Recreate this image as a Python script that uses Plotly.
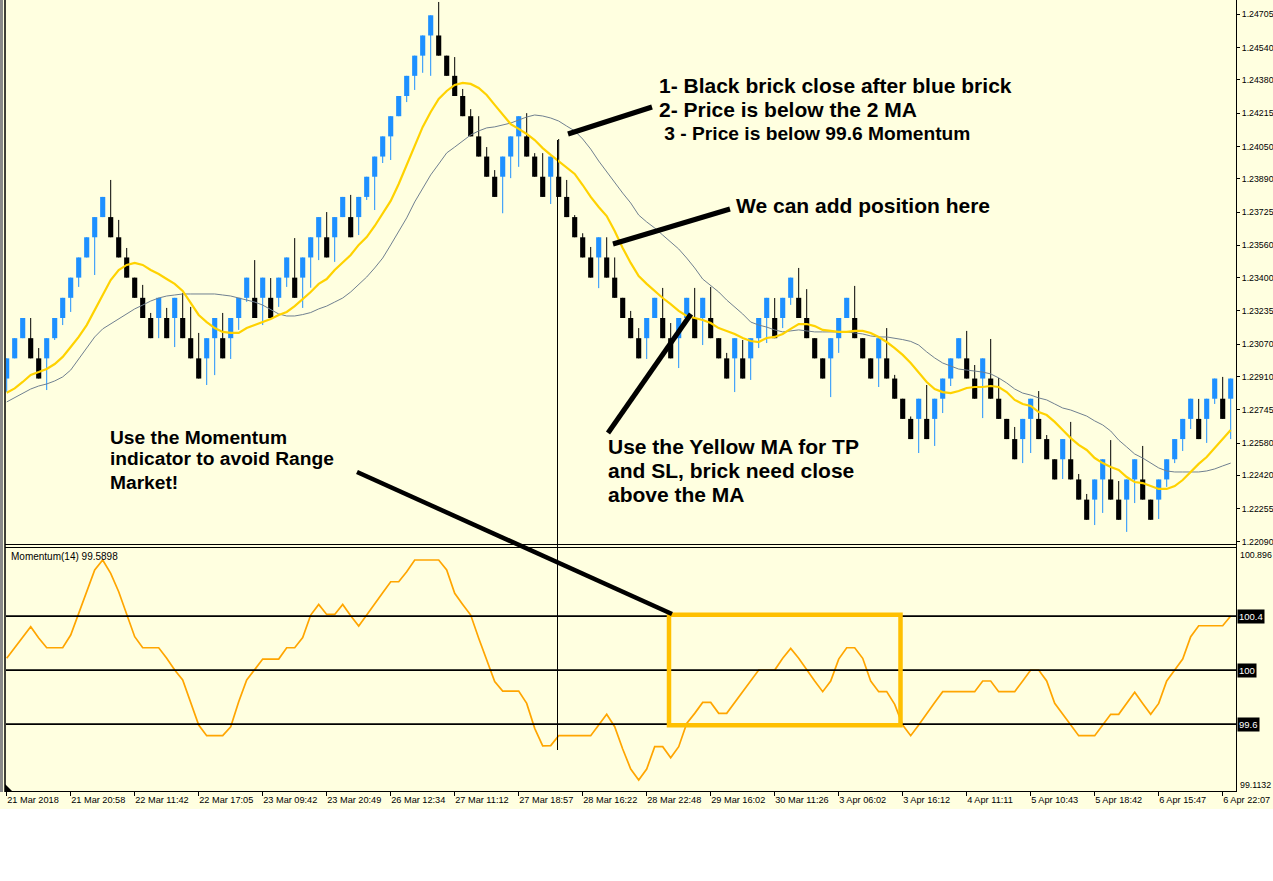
import plotly.graph_objects as go

W, H = 1273, 881
BG = "#FFFFE0"


def fx(p):
    return p / W


def fy(p):
    return 1 - p / H


# ---------------- data ----------------
date_labels = ["21 Mar 2018", "21 Mar 20:58", "22 Mar 11:42", "22 Mar 17:05", "23 Mar 09:42",
               "23 Mar 20:49", "26 Mar 12:34", "27 Mar 11:12", "27 Mar 18:57", "28 Mar 16:22",
               "28 Mar 22:48", "29 Mar 16:02", "30 Mar 11:26", "3 Apr 06:02", "3 Apr 16:12",
               "4 Apr 11:11", "5 Apr 10:43", "5 Apr 18:42", "6 Apr 15:47", "6 Apr 22:07"]
label_bars = [0, 8, 16, 24, 32, 40, 48, 56, 64, 72, 80, 88, 96, 104, 112, 120, 128, 136, 144, 152]

price_tick_labels = ["1.24705", "1.24540", "1.24380", "1.24215", "1.24050", "1.23890", "1.23725",
                     "1.23560", "1.23400", "1.23235", "1.23070", "1.22910", "1.22745", "1.22580",
                     "1.22420", "1.22255", "1.22090"]
momentum_levels = [100.4, 100.0, 99.6]
momentum_scale_labels = ["100.896", "99.1132"]

brick_open = [
    1.229, 1.230, 1.231, 1.231, 1.230, 1.230, 1.231, 1.232, 1.233, 1.234,
    1.235, 1.236, 1.237, 1.237, 1.236, 1.235, 1.234, 1.233, 1.232, 1.232,
    1.232, 1.232, 1.232, 1.231, 1.230, 1.230, 1.231, 1.231, 1.231, 1.232,
    1.233, 1.233, 1.233, 1.233, 1.233, 1.234, 1.234, 1.234, 1.235, 1.236,
    1.236, 1.236, 1.237, 1.237, 1.237, 1.238, 1.239, 1.240, 1.241, 1.242,
    1.243, 1.244, 1.245, 1.246, 1.246, 1.245, 1.244, 1.243, 1.242, 1.241,
    1.240, 1.239, 1.239, 1.240, 1.241, 1.241, 1.240, 1.239, 1.239, 1.239,
    1.238, 1.237, 1.236, 1.235, 1.235, 1.235, 1.234, 1.233, 1.232, 1.231,
    1.231, 1.232, 1.232, 1.231, 1.231, 1.232, 1.232, 1.232, 1.232, 1.231,
    1.230, 1.230, 1.230, 1.230, 1.231, 1.232, 1.232, 1.232, 1.233, 1.233,
    1.232, 1.231, 1.230, 1.230, 1.231, 1.232, 1.232, 1.231, 1.230, 1.230,
    1.230, 1.229, 1.228, 1.227, 1.227, 1.227, 1.227, 1.228, 1.229, 1.230,
    1.230, 1.229, 1.229, 1.229, 1.228, 1.227, 1.226, 1.226, 1.227, 1.227,
    1.226, 1.225, 1.225, 1.225, 1.224, 1.223, 1.223, 1.224, 1.224, 1.223,
    1.223, 1.224, 1.224, 1.223, 1.223, 1.224, 1.225, 1.226, 1.227, 1.227,
    1.227, 1.228, 1.228, 1.228]

brick_close = [
    1.230, 1.231, 1.232, 1.230, 1.229, 1.231, 1.232, 1.233, 1.234, 1.235,
    1.236, 1.237, 1.238, 1.236, 1.235, 1.234, 1.233, 1.232, 1.231, 1.233,
    1.231, 1.233, 1.231, 1.230, 1.229, 1.231, 1.232, 1.230, 1.232, 1.233,
    1.234, 1.232, 1.234, 1.232, 1.234, 1.235, 1.233, 1.235, 1.236, 1.237,
    1.235, 1.237, 1.238, 1.236, 1.238, 1.239, 1.240, 1.241, 1.242, 1.243,
    1.244, 1.245, 1.246, 1.247, 1.245, 1.244, 1.243, 1.242, 1.241, 1.240,
    1.239, 1.238, 1.240, 1.241, 1.242, 1.240, 1.239, 1.238, 1.240, 1.238,
    1.237, 1.236, 1.235, 1.234, 1.236, 1.234, 1.233, 1.232, 1.231, 1.230,
    1.232, 1.233, 1.231, 1.230, 1.232, 1.233, 1.231, 1.233, 1.231, 1.230,
    1.229, 1.231, 1.229, 1.231, 1.232, 1.233, 1.231, 1.233, 1.234, 1.232,
    1.231, 1.230, 1.229, 1.231, 1.232, 1.233, 1.231, 1.230, 1.229, 1.231,
    1.229, 1.228, 1.227, 1.226, 1.228, 1.226, 1.228, 1.229, 1.230, 1.231,
    1.229, 1.228, 1.230, 1.228, 1.227, 1.226, 1.225, 1.227, 1.228, 1.226,
    1.225, 1.224, 1.226, 1.224, 1.223, 1.222, 1.224, 1.225, 1.223, 1.222,
    1.224, 1.225, 1.223, 1.222, 1.224, 1.225, 1.226, 1.227, 1.228, 1.226,
    1.228, 1.229, 1.227, 1.229]

brick_high = [
    1.230, 1.231, 1.232, 1.23200, 1.23051, 1.231, 1.232, 1.233, 1.234, 1.235,
    1.236, 1.237, 1.238, 1.23884, 1.23686, 1.23547, 1.234, 1.23364, 1.23225, 1.233,
    1.23250, 1.233, 1.23324, 1.23255, 1.23126, 1.231, 1.232, 1.23225, 1.232, 1.233,
    1.234, 1.23487, 1.234, 1.23398, 1.234, 1.235, 1.23596, 1.235, 1.236, 1.237,
    1.23725, 1.237, 1.238, 1.23810, 1.238, 1.239, 1.240, 1.241, 1.242, 1.243,
    1.244, 1.245, 1.246, 1.247, 1.24766, 1.245, 1.24493, 1.24335, 1.24235, 1.24200,
    1.24047, 1.23933, 1.240, 1.241, 1.242, 1.24215, 1.24017, 1.24017, 1.240, 1.24087,
    1.23884, 1.23710, 1.23620, 1.23552, 1.236, 1.23600, 1.23500, 1.233, 1.23235, 1.23150,
    1.232, 1.233, 1.23349, 1.23175, 1.232, 1.233, 1.23349, 1.233, 1.23354, 1.231,
    1.23027, 1.231, 1.23091, 1.231, 1.232, 1.233, 1.23299, 1.233, 1.234, 1.23448,
    1.23343, 1.231, 1.230, 1.231, 1.232, 1.233, 1.23359, 1.231, 1.230, 1.231,
    1.23150, 1.22918, 1.228, 1.22712, 1.228, 1.22868, 1.228, 1.229, 1.230, 1.231,
    1.23136, 1.22967, 1.230, 1.23096, 1.22903, 1.227, 1.22660, 1.227, 1.228, 1.22838,
    1.22620, 1.225, 1.226, 1.22685, 1.22427, 1.22328, 1.224, 1.225, 1.22595, 1.22392,
    1.224, 1.225, 1.22566, 1.223, 1.224, 1.225, 1.226, 1.227, 1.228, 1.22799,
    1.228, 1.229, 1.22908, 1.229]

brick_low = [
    1.22833, 1.230, 1.231, 1.230, 1.229, 1.22843, 1.23091, 1.23165, 1.23230, 1.23354,
    1.235, 1.23413, 1.237, 1.236, 1.235, 1.234, 1.233, 1.232, 1.231, 1.231,
    1.231, 1.23056, 1.231, 1.230, 1.229, 1.22868, 1.22917, 1.230, 1.22997, 1.23141,
    1.23280, 1.232, 1.23165, 1.232, 1.23255, 1.23354, 1.233, 1.23250, 1.23350, 1.23487,
    1.235, 1.23478, 1.237, 1.236, 1.23611, 1.23785, 1.23735, 1.23968, 1.23983, 1.242,
    1.24270, 1.24330, 1.24415, 1.24400, 1.245, 1.244, 1.243, 1.242, 1.241, 1.240,
    1.239, 1.238, 1.23719, 1.23893, 1.23949, 1.240, 1.239, 1.238, 1.23765, 1.238,
    1.237, 1.236, 1.235, 1.234, 1.23348, 1.234, 1.233, 1.232, 1.231, 1.230,
    1.22997, 1.232, 1.231, 1.230, 1.22952, 1.232, 1.231, 1.23066, 1.231, 1.230,
    1.229, 1.22833, 1.229, 1.22893, 1.23051, 1.23076, 1.231, 1.23150, 1.23265, 1.232,
    1.231, 1.230, 1.229, 1.22808, 1.23027, 1.232, 1.231, 1.230, 1.229, 1.22858,
    1.229, 1.228, 1.227, 1.226, 1.22531, 1.226, 1.22566, 1.22729, 1.22863, 1.230,
    1.229, 1.228, 1.22704, 1.228, 1.227, 1.226, 1.225, 1.22481, 1.22531, 1.226,
    1.225, 1.224, 1.22402, 1.224, 1.223, 1.222, 1.22174, 1.22234, 1.223, 1.222,
    1.22140, 1.22283, 1.223, 1.222, 1.22204, 1.22363, 1.22481, 1.22541, 1.22650, 1.226,
    1.22581, 1.22774, 1.227, 1.22600]

ma_yellow = [
    1.22830, 1.22851, 1.22883, 1.22918, 1.22932, 1.22947, 1.22972, 1.23007, 1.23056, 1.23106,
    1.23165, 1.23240, 1.23309, 1.23388, 1.23438, 1.23463, 1.23473, 1.23463, 1.23438, 1.23418,
    1.23393, 1.23369, 1.23334, 1.23274, 1.23215, 1.23180, 1.23150, 1.23131, 1.23126, 1.23126,
    1.23150, 1.23165, 1.23180, 1.23195, 1.23215, 1.23230, 1.23259, 1.23294, 1.23329, 1.23369,
    1.23393, 1.23438, 1.23473, 1.23512, 1.23562, 1.23601, 1.23656, 1.23715, 1.23780, 1.23864,
    1.23958, 1.24047, 1.24147, 1.24221, 1.24285, 1.24325, 1.24355, 1.24365, 1.24360, 1.24340,
    1.24305, 1.24256, 1.24206, 1.24161, 1.24137, 1.24112, 1.24082, 1.24042, 1.24008, 1.23978,
    1.23948, 1.23914, 1.23859, 1.23800, 1.23750, 1.23705, 1.23631, 1.23547, 1.23473, 1.23408,
    1.23369, 1.23334, 1.23299, 1.23269, 1.23235, 1.23210, 1.23200, 1.23190, 1.23175, 1.23150,
    1.23136, 1.23121, 1.23101, 1.23086, 1.23081, 1.23101, 1.23106, 1.23121, 1.23146, 1.23170,
    1.23170, 1.23160, 1.23141, 1.23136, 1.23131, 1.23131, 1.23136, 1.23136, 1.23126, 1.23106,
    1.23081, 1.23051, 1.23017, 1.22977, 1.22932, 1.22883, 1.22848, 1.22833, 1.22828, 1.22838,
    1.22853, 1.22858, 1.22858, 1.22863, 1.22858, 1.22833, 1.22794, 1.22774, 1.22764, 1.22734,
    1.22719, 1.22685, 1.22645, 1.22605, 1.22571, 1.22546, 1.22506, 1.22481, 1.22462, 1.22447,
    1.22412, 1.22387, 1.22382, 1.22367, 1.22353, 1.22353, 1.22367, 1.22397, 1.22437, 1.22477,
    1.22511, 1.22556, 1.22605, 1.22645]

ma_gray = [
    1.22784, 1.22804, 1.22828, 1.22848, 1.22863, 1.22873, 1.22888, 1.22908, 1.22942, 1.22997,
    1.23046, 1.23106, 1.23146, 1.23170, 1.23195, 1.23220, 1.23245, 1.23264, 1.23284, 1.23299,
    1.23309, 1.23314, 1.23319, 1.23319, 1.23319, 1.23319, 1.23319, 1.23314, 1.23309, 1.23299,
    1.23289, 1.23279, 1.23264, 1.23240, 1.23220, 1.23210, 1.23210, 1.23217, 1.23227, 1.23245,
    1.23259, 1.23279, 1.23299, 1.23329, 1.23364, 1.23403, 1.23448, 1.23497, 1.23562, 1.23626,
    1.23696, 1.23775, 1.23839, 1.23909, 1.23963, 1.24018, 1.24047, 1.24077, 1.24107, 1.24127,
    1.24142, 1.24147, 1.24156, 1.24166, 1.24181, 1.24196, 1.24206, 1.24201, 1.24191, 1.24176,
    1.24151, 1.24127, 1.24087, 1.24037, 1.23978, 1.23923, 1.23869, 1.23819, 1.23770, 1.23710,
    1.23676, 1.23646, 1.23611, 1.23577, 1.23542, 1.23497, 1.23448, 1.23393, 1.23359, 1.23329,
    1.23289, 1.23255, 1.23220, 1.23180, 1.23165, 1.23155, 1.23141, 1.23131, 1.23136, 1.23141,
    1.23136, 1.23131, 1.23131, 1.23131, 1.23131, 1.23131, 1.23126, 1.23121, 1.23111, 1.23106,
    1.23106, 1.23101, 1.23093, 1.23084, 1.23066, 1.23032, 1.23002, 1.22977, 1.22962, 1.22947,
    1.22942, 1.22937, 1.22932, 1.22923, 1.22903, 1.22878, 1.22848, 1.22828, 1.22818, 1.22804,
    1.22794, 1.22774, 1.22754, 1.22744, 1.22729, 1.22714, 1.22690, 1.22670, 1.22640, 1.22595,
    1.22561, 1.22526, 1.22506, 1.22481, 1.22457, 1.22442, 1.22437, 1.22437, 1.22437, 1.22437,
    1.22442, 1.22452, 1.22467, 1.22481]

momentum = [
    100.087, 100.165, 100.242, 100.321, 100.237, 100.165, 100.165, 100.165, 100.259, 100.420,
    100.580, 100.741, 100.815, 100.716, 100.580, 100.407, 100.247, 100.165, 100.165, 100.165,
    100.087, 100.000, 99.926, 99.765, 99.593, 99.514, 99.514, 99.514, 99.580, 99.765,
    99.926, 100.000, 100.081, 100.081, 100.081, 100.165, 100.165, 100.240, 100.407, 100.486,
    100.412, 100.412, 100.486, 100.402, 100.326, 100.407, 100.494, 100.573, 100.654, 100.654,
    100.728, 100.815, 100.815, 100.815, 100.815, 100.741, 100.568, 100.486, 100.407, 100.235,
    100.074, 99.914, 99.844, 99.844, 99.844, 99.753, 99.568, 99.439, 99.440, 99.514,
    99.514, 99.514, 99.514, 99.514, 99.593, 99.672, 99.580, 99.415, 99.267, 99.185,
    99.267, 99.432, 99.432, 99.350, 99.432, 99.605, 99.679, 99.760, 99.760, 99.679,
    99.679, 99.760, 99.840, 99.919, 100.000, 100.000, 100.000, 100.087, 100.160, 100.087,
    100.000, 99.919, 99.840, 99.919, 100.081, 100.165, 100.165, 100.087, 99.919, 99.840,
    99.840, 99.746, 99.593, 99.514, 99.593, 99.679, 99.760, 99.840, 99.840, 99.840,
    99.840, 99.840, 99.919, 99.919, 99.840, 99.840, 99.840, 99.919, 100.000, 100.000,
    99.919, 99.753, 99.672, 99.593, 99.514, 99.514, 99.514, 99.593, 99.672, 99.672,
    99.753, 99.835, 99.753, 99.672, 99.753, 99.919, 100.000, 100.081, 100.247, 100.328,
    100.328, 100.328, 100.328, 100.400]

# ---------------- derived ----------------
n = len(brick_open)
bars = list(range(n))
body_base = [min(o, c) for o, c in zip(brick_open, brick_close)]
body_size = [abs(c - o) for o, c in zip(brick_open, brick_close)]
UP, DOWN = "#1E90FF", "#000000"
body_color = [UP if c > o else DOWN for o, c in zip(brick_open, brick_close)]


def wicks(up):
    xs, ys = [], []
    for i in bars:
        if (brick_close[i] > brick_open[i]) == up:
            xs += [i, i, None]
            ys += [brick_low[i], brick_high[i], None]
    return xs, ys


XR = [-0.0875, 153.6625]
FAM = "Liberation Sans, Arial, sans-serif"

fig = go.Figure()
wx, wy = wicks(True)
fig.add_trace(go.Scatter(x=wx, y=wy, mode="lines", line=dict(color=UP, width=1),
                         hoverinfo="skip", xaxis="x", yaxis="y"))
wx, wy = wicks(False)
fig.add_trace(go.Scatter(x=wx, y=wy, mode="lines", line=dict(color=DOWN, width=1),
                         hoverinfo="skip", xaxis="x", yaxis="y"))
fig.add_trace(go.Bar(x=bars, y=body_size, base=body_base, width=0.64,
                     marker=dict(color=body_color, line=dict(width=0)),
                     xaxis="x", yaxis="y", hoverinfo="skip"))
fig.add_trace(go.Scatter(x=bars, y=ma_gray, mode="lines", line=dict(color="#708090", width=1),
                         xaxis="x", yaxis="y", hoverinfo="skip"))
fig.add_trace(go.Scatter(x=bars, y=ma_yellow, mode="lines", line=dict(color="#FFD200", width=2.2),
                         xaxis="x", yaxis="y", hoverinfo="skip"))
fig.add_trace(go.Scatter(x=bars, y=momentum, mode="lines", line=dict(color="#FFA500", width=1.7),
                         xaxis="x2", yaxis="y2", hoverinfo="skip"))

shapes = []
# chart canvas background
shapes.append(dict(type="rect", xref="paper", yref="paper", x0=0, x1=1, y0=fy(809), y1=1,
                   fillcolor=BG, line=dict(width=0), layer="below"))
# left gray stripe and border
shapes.append(dict(type="rect", xref="paper", yref="paper", x0=0, x1=fx(3), y0=fy(792), y1=1,
                   fillcolor="#8A8A8A", line=dict(width=0)))
shapes.append(dict(type="line", xref="paper", yref="paper", x0=fx(5), x1=fx(5), y0=fy(792), y1=1,
                   line=dict(color="black", width=1.5)))
# panel borders
for yy in (544.5, 547.5, 791.5):
    shapes.append(dict(type="line", xref="paper", yref="paper", x0=fx(5), x1=fx(1236.5),
                       y0=fy(yy), y1=fy(yy), line=dict(color="black", width=1)))
shapes.append(dict(type="line", xref="paper", yref="paper", x0=fx(1236.5), x1=fx(1236.5),
                   y0=fy(792), y1=1, line=dict(color="black", width=1)))
# momentum level lines
for lv in momentum_levels:
    shapes.append(dict(type="line", xref="paper", yref="y2", x0=fx(6), x1=fx(1236),
                       y0=lv, y1=lv, line=dict(color="black", width=1.8)))
# vertical crosshair line
shapes.append(dict(type="line", xref="x", yref="paper", x0=68.85, x1=68.85,
                   y0=fy(750), y1=fy(140), line=dict(color="black", width=1)))
# yellow range box
shapes.append(dict(type="rect", xref="paper", yref="paper", x0=fx(669), x1=fx(900.5),
                   y0=fy(725.3), y1=fy(614.7), line=dict(color="#FFC000", width=4.5)))
# pointer lines
for (x0, y0, x1, y1, w) in [(568, 134, 652, 107, 5), (613, 244, 730, 209, 5),
                            (608, 433, 691, 314, 5), (357, 472, 672, 614, 4.5)]:
    shapes.append(dict(type="line", xref="paper", yref="paper", x0=fx(x0), y0=fy(y0),
                       x1=fx(x1), y1=fy(y1), line=dict(color="black", width=w)))
# small shift marker
shapes.append(dict(type="path", xref="paper", yref="paper",
                   path=f"M {fx(5)},{fy(791)} L {fx(5)},{fy(784)} L {fx(12)},{fy(791)} Z",
                   fillcolor="black", line=dict(width=0)))

BIG = dict(family=FAM, size=21, color="black")
MID = dict(family=FAM, size=19.2, color="black")
SMALL = dict(family=FAM, size=10, color="black")
AXF = dict(family=FAM, size=8.8, color="black")

notes = [
    ("1- Black brick close after blue brick", 657, 86, BIG),
    ("2- Price is below the 2 MA", 657, 110, BIG),
    (" 3 - Price is below 99.6 Momentum", 657, 133, MID),
    ("We can add position here", 734, 206, BIG),
    ("Use the Yellow MA for TP", 606, 447, BIG),
    ("and SL, brick need close", 606, 471, BIG),
    ("above the MA", 606, 495, BIG),
    ("Use the Momentum", 108, 437, MID),
    ("indicator to avoid Range", 108, 459, MID),
    ("Market!", 108, 482, MID),
]
annotations = []
for txt, x, y, f in notes:
    annotations.append(dict(text=f"<b>{txt}</b>", xref="paper", yref="paper", x=fx(x), y=fy(y),
                            xanchor="left", yanchor="middle", showarrow=False, font=f))
annotations.append(dict(text="Momentum(14) 99.5898", xref="paper", yref="paper", x=fx(9), y=fy(556),
                        xanchor="left", yanchor="middle", showarrow=False, font=SMALL))
for txt, y in zip(momentum_scale_labels, (555, 785)):
    annotations.append(dict(text=txt, xref="paper", yref="paper", x=fx(1238), y=fy(y),
                            xanchor="left", yanchor="middle", showarrow=False, font=AXF))
for lv in momentum_levels:
    annotations.append(dict(text=f"{lv:g}", xref="paper", yref="y2", x=fx(1237), y=lv,
                            xanchor="left", yanchor="middle", showarrow=False,
                            font=dict(family=FAM, size=9.5, color="white"),
                            bgcolor="black", borderpad=1))

fig.update_layout(
    width=W, height=H, margin=dict(l=0, r=0, t=0, b=0, pad=0),
    template="none", paper_bgcolor="white", plot_bgcolor=BG, showlegend=False,
    font=dict(family=FAM, size=10, color="black"),
    xaxis=dict(domain=[fx(6), fx(1236)], range=XR, anchor="y", showticklabels=False,
               showgrid=False, zeroline=False, showline=False, ticks="", automargin=False),
    yaxis=dict(domain=[fy(545), 1], range=[1.220751, 1.247758], anchor="x", side="right",
               tickvals=[float(s) for s in price_tick_labels], ticktext=price_tick_labels,
               ticks="outside", ticklen=3, tickwidth=1, tickcolor="black",
               tickfont=AXF, showgrid=False, zeroline=False,
               showline=False, automargin=False),
    xaxis2=dict(domain=[fx(6), fx(1236)], range=XR, anchor="y2", tickvals=label_bars,
                ticktext=date_labels, ticks="outside", ticklen=4, tickwidth=1, tickcolor="black",
                ticklabelposition="outside right", tickangle=0,
                tickfont=dict(family=FAM, size=9.2, color="black"),
                showgrid=False, zeroline=False, showline=False, automargin=False),
    yaxis2=dict(domain=[fy(791), fy(548)], range=[99.104, 100.904], anchor="x2", side="right",
                showticklabels=False, showgrid=False, zeroline=False, ticks="", automargin=False),
    shapes=shapes, annotations=annotations,
)

fig.write_html("out.html")
